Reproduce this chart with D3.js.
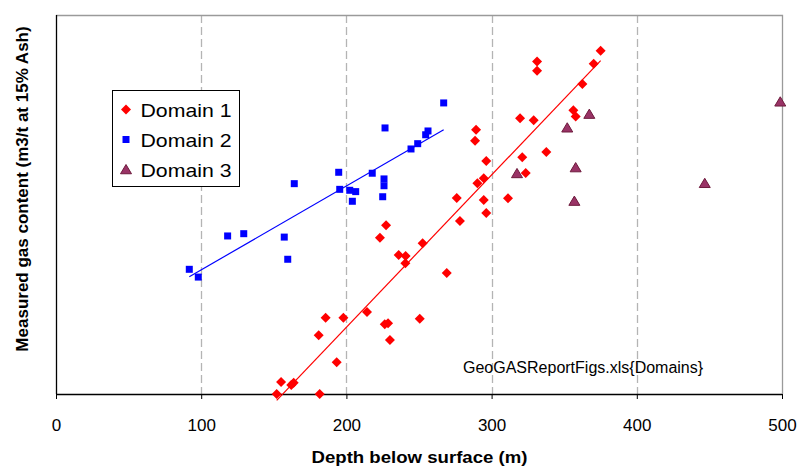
<!DOCTYPE html>
<html><head><meta charset="utf-8">
<script src="https://cdn.jsdelivr.net/npm/d3@7"></script>
<style>body{margin:0;background:#fff}svg{display:block}text{font-family:"Liberation Sans",Arial,sans-serif}</style>
</head><body><svg id="c" width="798" height="466"></svg>
<script>
// Domain 1 (red diamonds): depth (m), gas content (arbitrary y units, axis unlabeled)
const d1Depth = [152.0,155.0,162.0,163.7,181.6,180.9,185.7,193.3,197.9,214.2,226.4,228.7,230.0,250.5,223.1,227.3,236.0,240.8,240.6,252.5,269.1,278.2,276.0,294.6,296.3,290.2,294.6,296.3,288.6,289.3,311.3,323.5,321.1,337.7,319.6,329.0,331.3,331.3,356.3,357.9,362.5,370.3,375.1];
const d1Gas   = [0.0,0.63,0.47,0.60,0.0,3.10,4.03,1.67,4.03,4.33,3.68,3.73,2.85,3.97,8.25,8.90,7.34,7.28,6.90,7.95,6.39,9.13,10.34,10.24,9.55,11.12,11.38,12.30,13.37,13.95,10.33,11.66,12.49,12.77,14.55,14.44,17.54,17.06,14.97,14.65,16.36,17.43,18.12];
// Domain 2 (blue squares)
const d2Depth = [91.8,98.0,118.2,129.3,157.2,159.6,164.1,194.7,195.4,202.3,206.4,204.1,217.8,225.9,225.9,225.0,226.6,244.5,249.1,254.6,256.2,267.0];
const d2Gas   = [6.58,6.17,8.34,8.46,8.28,7.11,11.10,11.70,10.80,10.75,10.68,10.17,11.65,11.35,10.99,10.41,14.04,12.93,13.21,13.68,13.88,15.36];
// Domain 3 (triangles)
const d3Depth = [317.5,352.1,367.3,357.9,357.0,446.8,498.8];
const d3Gas   = [11.64,14.05,14.77,11.95,10.18,11.12,15.42];

const xTicks = [0,100,200,300,400,500];
const seriesNames = ["Domain 1","Domain 2","Domain 3"];
const xTitle = "Depth below surface (m)";
const yTitle = "Measured gas content (m3/t at 15% Ash)";
const note = "GeoGASReportFigs.xls{Domains}";

const svg = d3.select("#c");
const L=56,R=782,T=15,B=394;
const x = d3.scaleLinear().domain([0,500]).range([L,R]);
const y = d3.scaleLinear().domain([0,20]).range([B,T]);

// gridlines
svg.append("g").selectAll("line").data(xTicks.filter(t=>t>0&&t<500)).join("line")
  .attr("x1",d=>Math.round(x(d))+0.5).attr("x2",d=>Math.round(x(d))+0.5)
  .attr("y1",T).attr("y2",B).attr("stroke","#b4b4b4").attr("stroke-width",1.3)
  .attr("stroke-dasharray","8,4");
// plot border top/right
svg.append("path").attr("d",`M${L},${T+0.5}H${R+0.5}V${B}`).attr("fill","none").attr("stroke","#9a9a9a").attr("stroke-width",1.3);

// axes
const xa = svg.append("g").attr("transform",`translate(0,${B})`)
  .call(d3.axisBottom(x).tickValues(xTicks).tickSize(5).tickPadding(20).tickFormat(d3.format("d")));
xa.select(".domain").attr("stroke","#000").attr("stroke-width",1.3).attr("d",`M${L},0.5H${R}`);
xa.selectAll(".tick line").attr("stroke","#000");
xa.selectAll(".tick text").attr("font-size",17).attr("fill","#000").attr("font-family","Liberation Sans, Arial, sans-serif");
svg.append("line").attr("x1",L+0.5).attr("x2",L+0.5).attr("y1",T).attr("y2",B).attr("stroke","#000").attr("stroke-width",1.3);

// trend lines (least squares)
function fit(xs,ys){const n=xs.length,mx=d3.mean(xs),my=d3.mean(ys);let sxy=0,sxx=0;for(let i=0;i<n;i++){sxy+=(xs[i]-mx)*(ys[i]-my);sxx+=(xs[i]-mx)**2;}const b=sxy/sxx;return {a:my-b*mx,b};}
function trend(xs,ys,color){const f=fit(xs,ys);const x0=d3.min(xs),x1=d3.max(xs);
  svg.append("line").attr("x1",x(x0)).attr("y1",y(f.a+f.b*x0)).attr("x2",x(x1)).attr("y2",y(f.a+f.b*x1))
   .attr("stroke",color).attr("stroke-width",1.2);}
trend(d2Depth,d2Gas,"#0000ff");
trend(d1Depth,d1Gas,"#ff0000");

const diamond = s=>`M0,${-s}L${s},0L0,${s}L${-s},0Z`;
const square = s=>`M${-s},${-s}H${s}V${s}H${-s}Z`;
const tri = s=>`M0,${-s}L${s+0.5},${s*0.85}L${-s-0.5},${s*0.85}Z`;

function pts(xs,ys,path,fill,stroke){
  svg.append("g").selectAll("path").data(xs.map((v,i)=>[v,ys[i]])).join("path")
   .attr("d",path).attr("transform",d=>`translate(${x(d[0])},${y(d[1])})`)
   .attr("fill",fill).attr("stroke",stroke).attr("stroke-width",stroke==="none"?0:1);
}
pts(d2Depth,d2Gas,square(3.5),"#0000ff","none");
pts(d1Depth,d1Gas,diamond(5),"#ff0000","none");
pts(d3Depth,d3Gas,tri(5),"#993366","#6e1a3c");

// legend
const lg = svg.append("g");
lg.append("rect").attr("x",112.5).attr("y",90.5).attr("width",127).attr("height",96).attr("fill","#fff").attr("stroke","#000").attr("stroke-width",1);
const lpaths=[diamond(5),square(3.5),tri(5)], lfill=["#ff0000","#0000ff","#993366"], lstroke=["none","none","#6e1a3c"];
seriesNames.forEach((n,i)=>{
  const cy=109.5+i*30;
  lg.append("path").attr("d",lpaths[i]).attr("transform",`translate(126,${cy})`).attr("fill",lfill[i]).attr("stroke",lstroke[i]);
  lg.append("text").attr("x",140.5).attr("y",cy+7).attr("font-size",19).attr("textLength",91).attr("lengthAdjust","spacingAndGlyphs").attr("fill","#000").text(n);
});

svg.append("text").attr("x",463).attr("y",373).attr("font-size",16).attr("fill","#000").text(note);
svg.append("text").attr("x",419.5).attr("y",463).attr("text-anchor","middle").attr("font-size",17).attr("font-weight","bold").attr("textLength",216).attr("lengthAdjust","spacingAndGlyphs").text(xTitle);
svg.append("text").attr("transform","translate(28,189) rotate(-90)").attr("text-anchor","middle").attr("font-size",17).attr("font-weight","bold").text(yTitle);
</script></body></html>
